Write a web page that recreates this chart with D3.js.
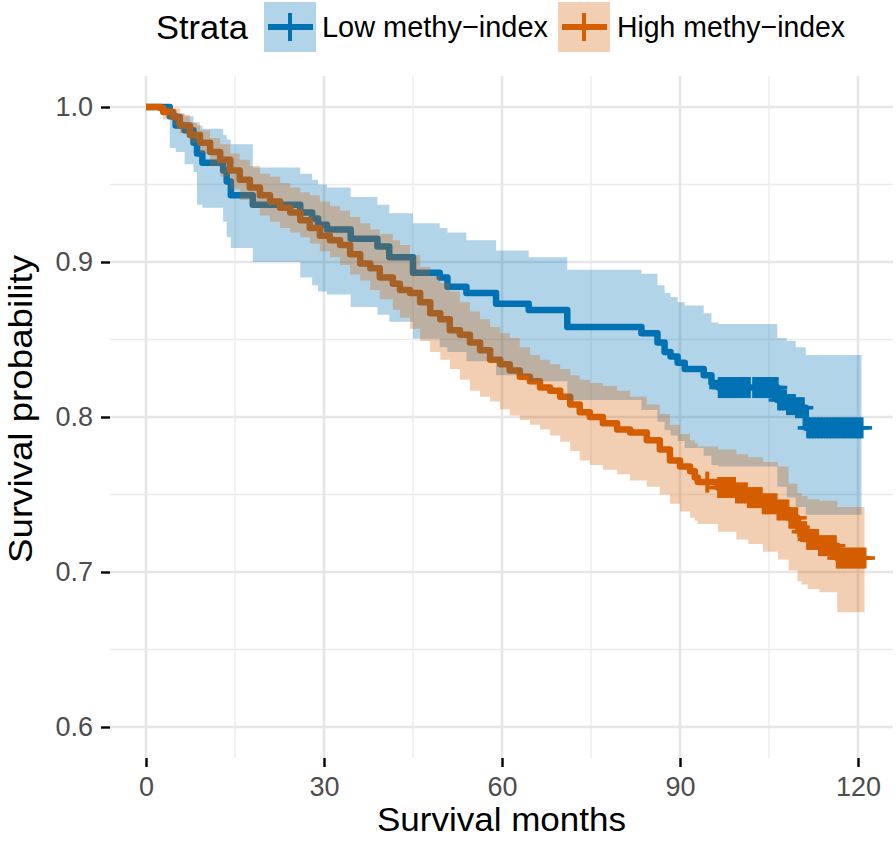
<!DOCTYPE html>
<html>
<head>
<meta charset="utf-8">
<script src="https://cdn.jsdelivr.net/npm/d3@7"></script>
<style>
  html, body { margin: 0; padding: 0; background: #ffffff; }
  svg { display: block; font-family: "Liberation Sans", Arial, Helvetica, sans-serif; }
</style>
</head>
<body>
<svg id="chart" width="896" height="841"></svg>
<script>
// ---------- data ----------
const strataLabels = ["Low methy\u2212index", "High methy\u2212index"];
const xTicks = [0, 30, 60, 90, 120];
const xMinorTicks = [15, 45, 75, 105];
const yTicks = [0.6, 0.7, 0.8, 0.9, 1.0];
const yMinorTicks = [0.65, 0.75, 0.85, 0.95];

// Low methy-index: step-change times, survival and 95% CI
const lowTime  = [0, 4.0, 5.0, 6.5, 8.0, 8.6, 9.5, 13.0, 13.6, 14.3, 18.0, 26.0, 28.0, 29.0, 30.5, 34.5, 39.0, 41.0, 45.0, 49.5, 50.8, 54.0, 59.0, 64.5, 71.0, 83.5, 86.2, 87.4, 88.4, 89.6, 90.8, 94.0, 95.3, 96.5, 106.4, 108.0, 109.5, 111.2];
const lowSurv  = [1, 0.994, 0.988, 0.985, 0.977, 0.970, 0.964, 0.959, 0.952, 0.943, 0.937, 0.932, 0.928, 0.924, 0.921, 0.915, 0.910, 0.903, 0.893, 0.890, 0.884, 0.880, 0.873, 0.869, 0.858, 0.854, 0.848, 0.842, 0.839, 0.835, 0.831, 0.827, 0.822, 0.819, 0.811, 0.808, 0.806, 0.793];
const lowUpper = [1, 0.998, 0.996, 0.994, 0.990, 0.988, 0.986, 0.982, 0.979, 0.976, 0.961, 0.957, 0.953, 0.950, 0.948, 0.942, 0.937, 0.9315, 0.925, 0.922, 0.919, 0.914, 0.9075, 0.903, 0.895, 0.8925, 0.885, 0.880, 0.8775, 0.874, 0.872, 0.867, 0.861, 0.860, 0.851, 0.849, 0.845, 0.840];
const lowLower = [1, 0.9735, 0.971, 0.963, 0.958, 0.937, 0.935, 0.926, 0.916, 0.909, 0.900, 0.890, 0.885, 0.881, 0.879, 0.871, 0.866, 0.8615, 0.8505, 0.845, 0.842, 0.836, 0.827, 0.823, 0.811, 0.8045, 0.797, 0.7915, 0.788, 0.7845, 0.780, 0.775, 0.769, 0.768, 0.755, 0.748, 0.742, 0.737];
const lowEnd = 120.6;
const lowCensor = [96.7, 97.2, 97.7, 98.2, 98.7, 99.2, 99.7, 100.2, 100.7, 101.2, 101.6,
  102.5, 103.0, 103.5, 104.0, 104.5, 105.0, 105.5, 106.0, 106.3,
  106.7, 107.2, 107.7, 108.2, 108.7, 109.2, 109.7, 110.2, 110.7,
  111.6, 112.1, 112.6, 113.1, 113.6, 114.1, 114.6, 115.1, 115.6, 116.1, 116.6, 117.1, 117.6, 118.1, 118.6, 119.1, 119.6, 120.1, 120.6];

// High methy-index
const highTime  = [0, 2.4, 2.9, 4.6, 5.7, 7.4, 9.1, 10.8, 12.5, 14.2, 15.8, 17.5, 19.2, 20.9, 22.6, 24.3, 26.0, 27.6, 29.3, 31.0, 32.7, 34.4, 36.1, 37.8, 39.4, 41.6, 42.8, 44.5, 46.2, 47.9, 49.6, 51.2, 52.9, 54.6, 56.3, 58.0, 59.7, 61.3, 63.0, 64.7, 66.4, 68.1, 69.8, 71.5, 73.1, 74.8, 77.0, 79.4, 81.6, 84.4, 86.6, 88.3, 90.0, 91.7, 92.5, 93.0, 96.4, 99.5, 101.5, 104.0, 106.5, 108.3, 109.8, 110.5, 111.5, 113.5, 116.5];
const highSurv  = [1, 0.9994, 0.9968, 0.9935, 0.988, 0.982, 0.977, 0.971, 0.966, 0.959, 0.953, 0.948, 0.943, 0.939, 0.935, 0.932, 0.927, 0.922, 0.917, 0.914, 0.911, 0.905, 0.899, 0.896, 0.890, 0.886, 0.882, 0.880, 0.874, 0.867, 0.863, 0.856, 0.853, 0.848, 0.843, 0.837, 0.834, 0.830, 0.826, 0.823, 0.819, 0.817, 0.813, 0.808, 0.803, 0.800, 0.796, 0.792, 0.790, 0.785, 0.779, 0.772, 0.768, 0.765, 0.761, 0.758, 0.7545, 0.751, 0.748, 0.744, 0.740, 0.735, 0.729, 0.726, 0.721, 0.717, 0.709];
const highUpper = [1, 1, 1, 0.999, 0.995, 0.990, 0.985, 0.980, 0.976, 0.970, 0.966, 0.962, 0.957, 0.955, 0.951, 0.948, 0.945, 0.943, 0.939, 0.936, 0.933, 0.929, 0.925, 0.921, 0.918, 0.914, 0.911, 0.9045, 0.897, 0.891, 0.8865, 0.881, 0.874, 0.868, 0.863, 0.858, 0.854, 0.851, 0.845, 0.840, 0.837, 0.834, 0.831, 0.827, 0.824, 0.822, 0.820, 0.817, 0.813, 0.808, 0.802, 0.795, 0.789, 0.785, 0.783, 0.781, 0.779, 0.776, 0.774, 0.771, 0.768, 0.757, 0.751, 0.749, 0.747, 0.746, 0.742];
const highLower = [1, 0.996, 0.992, 0.988, 0.983, 0.977, 0.970, 0.962, 0.955, 0.947, 0.940, 0.935, 0.930, 0.926, 0.922, 0.919, 0.916, 0.912, 0.907, 0.903, 0.898, 0.892, 0.888, 0.882, 0.876, 0.869, 0.864, 0.857, 0.849, 0.842, 0.837, 0.831, 0.824, 0.817, 0.813, 0.810, 0.805, 0.801, 0.798, 0.795, 0.792, 0.788, 0.784, 0.778, 0.772, 0.769, 0.766, 0.763, 0.759, 0.755, 0.750, 0.744, 0.739, 0.735, 0.733, 0.731, 0.726, 0.721, 0.718, 0.713, 0.708, 0.701, 0.694, 0.692, 0.689, 0.687, 0.674];
const highEnd = 121.1;
const highCensor = [94.6,
  96.6, 97.1, 97.6, 98.1, 98.6, 99.1, 99.6, 100.1, 100.6, 101.1, 101.6, 102.1, 102.6, 103.1, 103.6, 104.1, 104.6, 105.1, 105.6, 106.1,
  106.6, 107.1, 107.6, 108.1, 108.6, 109.1, 109.6, 110.1, 110.6, 111.1, 111.6, 112.1, 112.6, 113.1, 113.6, 114.1, 114.6, 115.1, 115.6, 116.1,
  116.6, 117.1, 117.6, 118.1, 118.6, 119.1, 119.6, 120.1, 120.6, 121.1];

const colors = ["#0072B2", "#D55E00"];

// ---------- layout ----------
const svg = d3.select("#chart");
const panel = { left: 110, right: 893, top: 76, bottom: 758 };
const x = d3.scaleLinear().domain([0, 120]).range([146, 858]);
const y = d3.scaleLinear().domain([0.6, 1.0]).range([727, 107]);

svg.append("rect").attr("width", 896).attr("height", 841).attr("fill", "#ffffff");

// grid
const grid = svg.append("g");
grid.selectAll("line.ymin").data(yMinorTicks).join("line")
  .attr("x1", panel.left).attr("x2", panel.right)
  .attr("y1", d => y(d)).attr("y2", d => y(d))
  .attr("stroke", "#ebebeb").attr("stroke-width", 1.3);
grid.selectAll("line.xmin").data(xMinorTicks).join("line")
  .attr("y1", panel.top).attr("y2", panel.bottom)
  .attr("x1", d => x(d)).attr("x2", d => x(d))
  .attr("stroke", "#ebebeb").attr("stroke-width", 1.3);
grid.selectAll("line.ymaj").data(yTicks).join("line")
  .attr("x1", panel.left).attr("x2", panel.right)
  .attr("y1", d => y(d)).attr("y2", d => y(d))
  .attr("stroke", "#e6e6e6").attr("stroke-width", 2.6);
grid.selectAll("line.xmaj").data(xTicks).join("line")
  .attr("y1", panel.top).attr("y2", panel.bottom)
  .attr("x1", d => x(d)).attr("x2", d => x(d))
  .attr("stroke", "#e6e6e6").attr("stroke-width", 2.6);

// series
function rows(time, surv, up, lo, end) {
  const r = time.map((t, i) => ({ t, s: surv[i], u: up[i], l: lo[i] }));
  const last = r[r.length - 1];
  r.push({ t: end, s: last.s, u: last.u, l: last.l });
  return r;
}
const series = [
  { rows: rows(lowTime, lowSurv, lowUpper, lowLower, lowEnd), censor: lowCensor, time: lowTime, surv: lowSurv, color: colors[0] },
  { rows: rows(highTime, highSurv, highUpper, highLower, highEnd), censor: highCensor, time: highTime, surv: highSurv, color: colors[1] }
];

const line = d3.line().x(d => x(d.t)).y(d => y(d.s)).curve(d3.curveStepAfter);
const area = d3.area().x(d => x(d.t)).y0(d => y(d.l)).y1(d => y(d.u)).curve(d3.curveStepAfter);

function survAt(time, surv, t) {
  const i = d3.bisectRight(time, t) - 1;
  return surv[Math.max(0, i)];
}

const marks = svg.append("g");
series.forEach(s => {
  marks.append("path").attr("d", line(s.rows)).attr("fill", "none")
    .attr("stroke", s.color).attr("stroke-width", 6.5).attr("stroke-linejoin", "round");
});
series.forEach(s => {
  const g = marks.append("g");
  const h = 10.5;
  s.censor.forEach(c => {
    const cx = x(c), cy = y(survAt(s.time, s.surv, c));
    g.append("line").attr("x1", cx - h).attr("x2", cx + h).attr("y1", cy).attr("y2", cy)
      .attr("stroke", s.color).attr("stroke-width", 3.5);
    g.append("line").attr("x1", cx).attr("x2", cx).attr("y1", cy - h).attr("y2", cy + h)
      .attr("stroke", s.color).attr("stroke-width", 4);
  });
});
series.forEach(s => {
  marks.append("path").attr("d", area(s.rows)).attr("fill", s.color).attr("fill-opacity", 0.3).attr("stroke", "none");
});

// axes
const yAxis = d3.axisLeft(y).tickValues(yTicks).tickFormat(d3.format(".1f")).tickSize(9).tickPadding(8);
const gy = svg.append("g").attr("transform", `translate(${panel.left},0)`).call(yAxis);
const xAxis = d3.axisBottom(x).tickValues(xTicks).tickFormat(d3.format("d")).tickSize(9).tickPadding(10);
const gx = svg.append("g").attr("transform", `translate(0,${panel.bottom})`).call(xAxis);
[gx, gy].forEach(g => {
  g.select(".domain").remove();
  g.selectAll(".tick line").attr("stroke", "#000000").attr("stroke-width", 2.4);
  g.selectAll(".tick text").attr("fill", "#4d4d4d").style("font-size", "27px")
    .style("font-family", '"Liberation Sans", Arial, Helvetica, sans-serif');
});

// axis titles
svg.append("text").attr("x", 501.5).attr("y", 831).attr("text-anchor", "middle")
  .style("font-size", "33px").attr("textLength", 249).attr("lengthAdjust", "spacingAndGlyphs")
  .attr("fill", "#000").text("Survival months");
svg.append("text").attr("transform", "translate(32,409) rotate(-90)").attr("text-anchor", "middle")
  .style("font-size", "33px").attr("textLength", 308).attr("lengthAdjust", "spacingAndGlyphs")
  .attr("fill", "#000").text("Survival probability");

// legend
const leg = svg.append("g");
leg.append("text").attr("x", 156).attr("y", 39).style("font-size", "34px")
  .attr("textLength", 92).attr("lengthAdjust", "spacingAndGlyphs").attr("fill", "#000").text("Strata");
const keys = [
  { x0: 264, label: strataLabels[0], tx: 322, tl: 226, color: colors[0] },
  { x0: 558, label: strataLabels[1], tx: 617, tl: 228, color: colors[1] }
];
keys.forEach(k => {
  leg.append("rect").attr("x", k.x0).attr("y", 2).attr("width", 52).attr("height", 50)
    .attr("fill", k.color).attr("fill-opacity", 0.3);
  leg.append("line").attr("x1", k.x0 + 4).attr("x2", k.x0 + 49).attr("y1", 27).attr("y2", 27)
    .attr("stroke", k.color).attr("stroke-width", 6);
  leg.append("line").attr("x1", k.x0 + 26).attr("x2", k.x0 + 26).attr("y1", 13).attr("y2", 41)
    .attr("stroke", k.color).attr("stroke-width", 4);
  leg.append("text").attr("x", k.tx).attr("y", 37).style("font-size", "30px")
    .attr("textLength", k.tl).attr("lengthAdjust", "spacingAndGlyphs").attr("fill", "#000").text(k.label);
});
</script>
</body>
</html>
